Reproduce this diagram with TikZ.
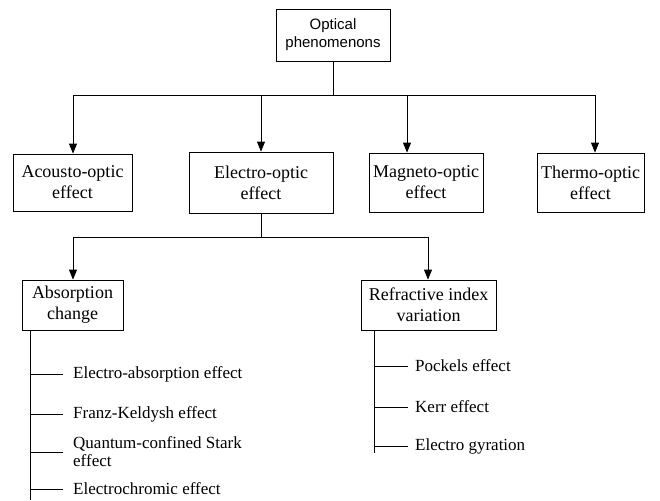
\documentclass[tikz,border=0pt]{standalone}
\usepackage{fontspec}
\setmainfont{Liberation Serif}
\newfontfamily\arialf{Liberation Sans}
\usepackage{tikz}
\usetikzlibrary{calc,arrows.meta,positioning}
\tikzset{
  bx/.style={draw=black,line width=0.8pt,align=center,inner sep=2pt,font=\fontsize{18}{21}\selectfont},
  lf/.style={anchor=west,align=left,inner sep=0pt,font=\fontsize{17}{18}\selectfont},
  ar/.style={-{Triangle[length=10pt,width=8pt]},line width=0.8pt},
  ln/.style={line width=0.8pt}
}
\begin{document}
\begin{tikzpicture}[x=1pt,y=-1pt]
\useasboundingbox (0,0) rectangle (660,500);
% top level
\node[bx,font=\arialf\fontsize{15}{18}\selectfont,minimum width=114pt,minimum height=52pt] (opt) at (333,35) {Optical\\phenomenons};
\node[bx,minimum width=119pt,minimum height=57pt] (aco) at (72.5,182.5) {Acousto-optic\\effect};
\node[bx,minimum width=144pt,minimum height=61pt] (ele) at (261,182.5) {Electro-optic\\effect};
\node[bx,minimum width=114pt,minimum height=59pt] (mag) at (426,182.5) {Magneto-optic\\effect};
\node[bx,minimum width=107pt,minimum height=59pt] (thm) at (590.5,182.5) {Thermo-optic\\effect};
\coordinate (hub) at (333,95);
\draw[ln] (opt.south) -- (hub);
\foreach \n/\dx in {aco/0.5,ele/0,mag/-19,thm/4.5}{\draw[ar] (hub) -| ([xshift=\dx pt]\n.north);}
% electro-optic branches
\node[bx,minimum width=101pt,minimum height=50pt] (abs) at (72.5,305) {Absorption\\change};
\node[bx,minimum width=135pt,minimum height=50pt] (ref) at (428.5,305) {Refractive index\\variation};
\coordinate (hub2) at (261,237);
\draw[ln] (ele.south) -- (hub2);
\foreach \n/\dx in {abs/0.5,ref/-0.5}{\draw[ar] (hub2) -| ([xshift=\dx pt]\n.north);}
% leaves
\node[lf] (ea) at (73,374) {Electro-absorption effect};
\node[lf] (fk) at (73,414) {Franz-Keldysh effect};
\node[lf] (qcs) at (73,452) {Quantum-confined Stark\\effect};
\node[lf] (ec) at (73,489) {Electrochromic effect};
\node[lf] (pk) at (415,366) {Pockels effect};
\node[lf] (kr) at (415,407) {Kerr effect};
\node[lf] (eg) at (415,446) {Electro gyration};
\coordinate (atr) at ([xshift=9pt]abs.south west);
\coordinate (rtr) at ([xshift=14pt]ref.south west);
\draw[ln] (atr) -- (atr |- 0,500);
\draw[ln] (rtr) -- (rtr |- 0,453);
\foreach \n in {ea,fk,qcs,ec}{\draw[ln] (atr |- \n.west) -- ([xshift=-10pt]\n.west);}
\foreach \n in {pk,kr,eg}{\draw[ln] (rtr |- \n.west) -- ([xshift=-7pt]\n.west);}
\end{tikzpicture}
\end{document}
